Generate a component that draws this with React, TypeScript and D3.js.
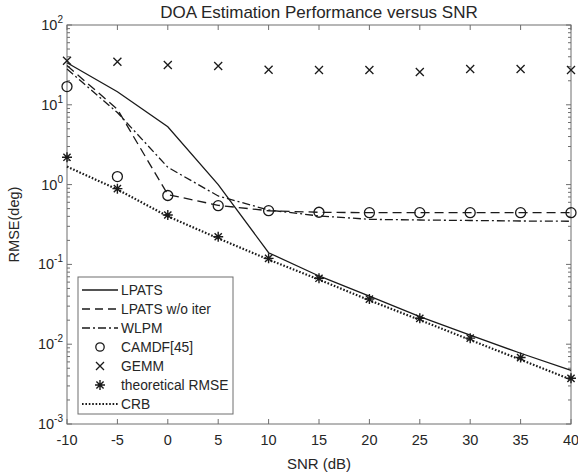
import React from "react";
import * as d3 from "d3";

// SNR grid (dB)
const snr = [-10, -5, 0, 5, 10, 15, 20, 25, 30, 35, 40];

// RMSE (deg) for each method
const lpats = [33.7, 14.6, 5.3, 1.0, 0.14, 0.0716, 0.040, 0.0221, 0.0130, 0.0077, 0.0047];
const lpatsNoIter = [31.0, 8.8, 0.75, 0.55, 0.47, 0.45, 0.445, 0.445, 0.445, 0.445, 0.445];
const wlpm = [28.0, 8.0, 1.65, 0.72, 0.48, 0.405, 0.367, 0.36, 0.355, 0.35, 0.347];
const camdf = [16.9, 1.26, 0.73, 0.545, 0.471, 0.45, 0.445, 0.445, 0.445, 0.445, 0.445];
const gemm = [35.7, 34.7, 31.6, 30.6, 27.5, 27.3, 27.3, 25.8, 28.1, 28.1, 27.3];
const theory = [2.2, 0.89, 0.416, 0.222, 0.119, 0.067, 0.0368, 0.0211, 0.0119, 0.0068, 0.00374];
const crb = [1.68, 0.87, 0.40, 0.212, 0.115, 0.0645, 0.0355, 0.0201, 0.0113, 0.0064, 0.0036];

const xTicks = [-10, -5, 0, 5, 10, 15, 20, 25, 30, 35, 40];
const yDecades = [-3, -2, -1, 0, 1, 2];

const W = 578;
const H = 476;
const left = 67;
const top = 25;
const right = 571;
const bottom = 424;

const x = d3.scaleLinear().domain([-10, 40]).range([left, right]);
const y = d3.scaleLog().domain([1e-3, 1e2]).range([bottom, top]);

const axisColor = "#6e6e6e";
const textColor = "#262626";
const lineColor = "#1a1a1a";
const font = "'Liberation Sans', Arial, Helvetica, sans-serif";

const lineGen = d3
  .line<[number, number]>()
  .x((d) => x(d[0]))
  .y((d) => y(d[1]));

const pts = (vals: number[]) => snr.map((s, i) => [s, vals[i]] as [number, number]);

function Circle({ cx, cy }: { cx: number; cy: number }) {
  return <circle cx={cx} cy={cy} r={5} fill="none" stroke={lineColor} strokeWidth={1.3} />;
}

function Cross({ cx, cy }: { cx: number; cy: number }) {
  const s = 4;
  return (
    <path
      d={`M${cx - s},${cy - s}L${cx + s},${cy + s}M${cx - s},${cy + s}L${cx + s},${cy - s}`}
      stroke={lineColor}
      strokeWidth={1.3}
    />
  );
}

function Star({ cx, cy }: { cx: number; cy: number }) {
  const s = 5;
  const d = 3.6;
  return (
    <path
      d={`M${cx - s},${cy}L${cx + s},${cy}M${cx},${cy - s}L${cx},${cy + s}M${cx - d},${cy - d}L${cx + d},${cy + d}M${cx - d},${cy + d}L${cx + d},${cy - d}`}
      stroke={lineColor}
      strokeWidth={1.4}
    />
  );
}

const legendItems = [
  { label: "LPATS", kind: "line", dash: "" },
  { label: "LPATS w/o iter", kind: "line", dash: "8,5" },
  { label: "WLPM", kind: "line", dash: "8,3,2,3" },
  { label: "CAMDF[45]", kind: "circle", dash: "" },
  { label: "GEMM", kind: "cross", dash: "" },
  { label: "theoretical RMSE", kind: "star", dash: "" },
  { label: "CRB", kind: "dot", dash: "" },
];

export default function App() {
  const minorTicks: number[] = [];
  for (let e = -3; e < 2; e++) {
    for (let m = 2; m <= 9; m++) minorTicks.push(m * Math.pow(10, e));
  }

  return (
    <svg
      width={W}
      height={H}
      style={{ position: "absolute", left: 0, top: 0, background: "#fff" }}
      fontFamily={font}
    >
      <rect x={0} y={0} width={W} height={H} fill="#fff" />

      {/* title */}
      <text x={(left + right) / 2} y={18} textAnchor="middle" fontSize={17} fill={textColor}>
        DOA Estimation Performance versus SNR
      </text>

      {/* frame */}
      <rect x={left} y={top} width={right - left} height={bottom - top} fill="none" stroke={axisColor} strokeWidth={1} />

      {/* x ticks, bottom and top */}
      {xTicks.map((t) => (
        <g key={`xt${t}`}>
          <line x1={x(t)} x2={x(t)} y1={bottom} y2={bottom - 5} stroke={axisColor} />
          <line x1={x(t)} x2={x(t)} y1={top} y2={top + 5} stroke={axisColor} />
          <text x={x(t)} y={bottom + 21} textAnchor="middle" fontSize={14.5} fill={textColor}>
            {t}
          </text>
        </g>
      ))}

      {/* y decade ticks and labels */}
      {yDecades.map((e) => {
        const yy = y(Math.pow(10, e));
        return (
          <g key={`yd${e}`}>
            <line x1={left} x2={left + 5} y1={yy} y2={yy} stroke={axisColor} />
            <line x1={right} x2={right - 5} y1={yy} y2={yy} stroke={axisColor} />
            <text x={left - 4} y={yy + 5} textAnchor="end" fontSize={14.5} fill={textColor}>
              10
              <tspan dy={-7} fontSize={10}>
                {e}
              </tspan>
            </text>
          </g>
        );
      })}
      {minorTicks.map((v, i) => (
        <g key={`ym${i}`}>
          <line x1={left} x2={left + 3} y1={y(v)} y2={y(v)} stroke={axisColor} />
          <line x1={right} x2={right - 3} y1={y(v)} y2={y(v)} stroke={axisColor} />
        </g>
      ))}

      {/* axis labels */}
      <text x={(left + right) / 2} y={469} textAnchor="middle" fontSize={15} fill={textColor}>
        SNR (dB)
      </text>
      <text
        transform={`translate(19,${(top + bottom) / 2}) rotate(-90)`}
        textAnchor="middle"
        fontSize={14.5}
        fill={textColor}
      >
        RMSE(deg)
      </text>

      {/* curves */}
      <path d={lineGen(pts(crb)) || ""} fill="none" stroke={lineColor} strokeWidth={2.2} strokeDasharray="1.6,1.8" />
      <path d={lineGen(pts(lpats)) || ""} fill="none" stroke={lineColor} strokeWidth={1.3} />
      <path d={lineGen(pts(lpatsNoIter)) || ""} fill="none" stroke={lineColor} strokeWidth={1.3} strokeDasharray="9,5" />
      <path d={lineGen(pts(wlpm)) || ""} fill="none" stroke={lineColor} strokeWidth={1.3} strokeDasharray="8,3,2,3" />

      {/* markers */}
      {snr.map((s, i) => (
        <g key={`m${s}`}>
          <Circle cx={x(s)} cy={y(camdf[i])} />
          <Cross cx={x(s)} cy={y(gemm[i])} />
          <Star cx={x(s)} cy={y(theory[i])} />
        </g>
      ))}

      {/* legend */}
      <g>
        <rect x={78} y={277} width={155} height={137} fill="#fff" stroke={axisColor} strokeWidth={1} />
        {legendItems.map((it, i) => {
          const ly = 290 + i * 19;
          const x0 = 82;
          const x1 = 118;
          const mx = (x0 + x1) / 2;
          let sample: React.ReactNode = null;
          if (it.kind === "line") {
            sample = <line x1={x0} x2={x1} y1={ly} y2={ly} stroke={lineColor} strokeWidth={1.3} strokeDasharray={it.dash || undefined} />;
          } else if (it.kind === "dot") {
            sample = <line x1={x0} x2={x1} y1={ly} y2={ly} stroke={lineColor} strokeWidth={2.2} strokeDasharray="1.6,1.8" />;
          } else if (it.kind === "circle") {
            sample = <circle cx={mx} cy={ly} r={4.2} fill="none" stroke={lineColor} strokeWidth={1.3} />;
          } else if (it.kind === "cross") {
            sample = <Cross cx={mx} cy={ly} />;
          } else {
            sample = <Star cx={mx} cy={ly} />;
          }
          return (
            <g key={it.label}>
              {sample}
              <text x={121} y={ly + 5} fontSize={13.8} fill={textColor}>
                {it.label}
              </text>
            </g>
          );
        })}
      </g>
    </svg>
  );
}
